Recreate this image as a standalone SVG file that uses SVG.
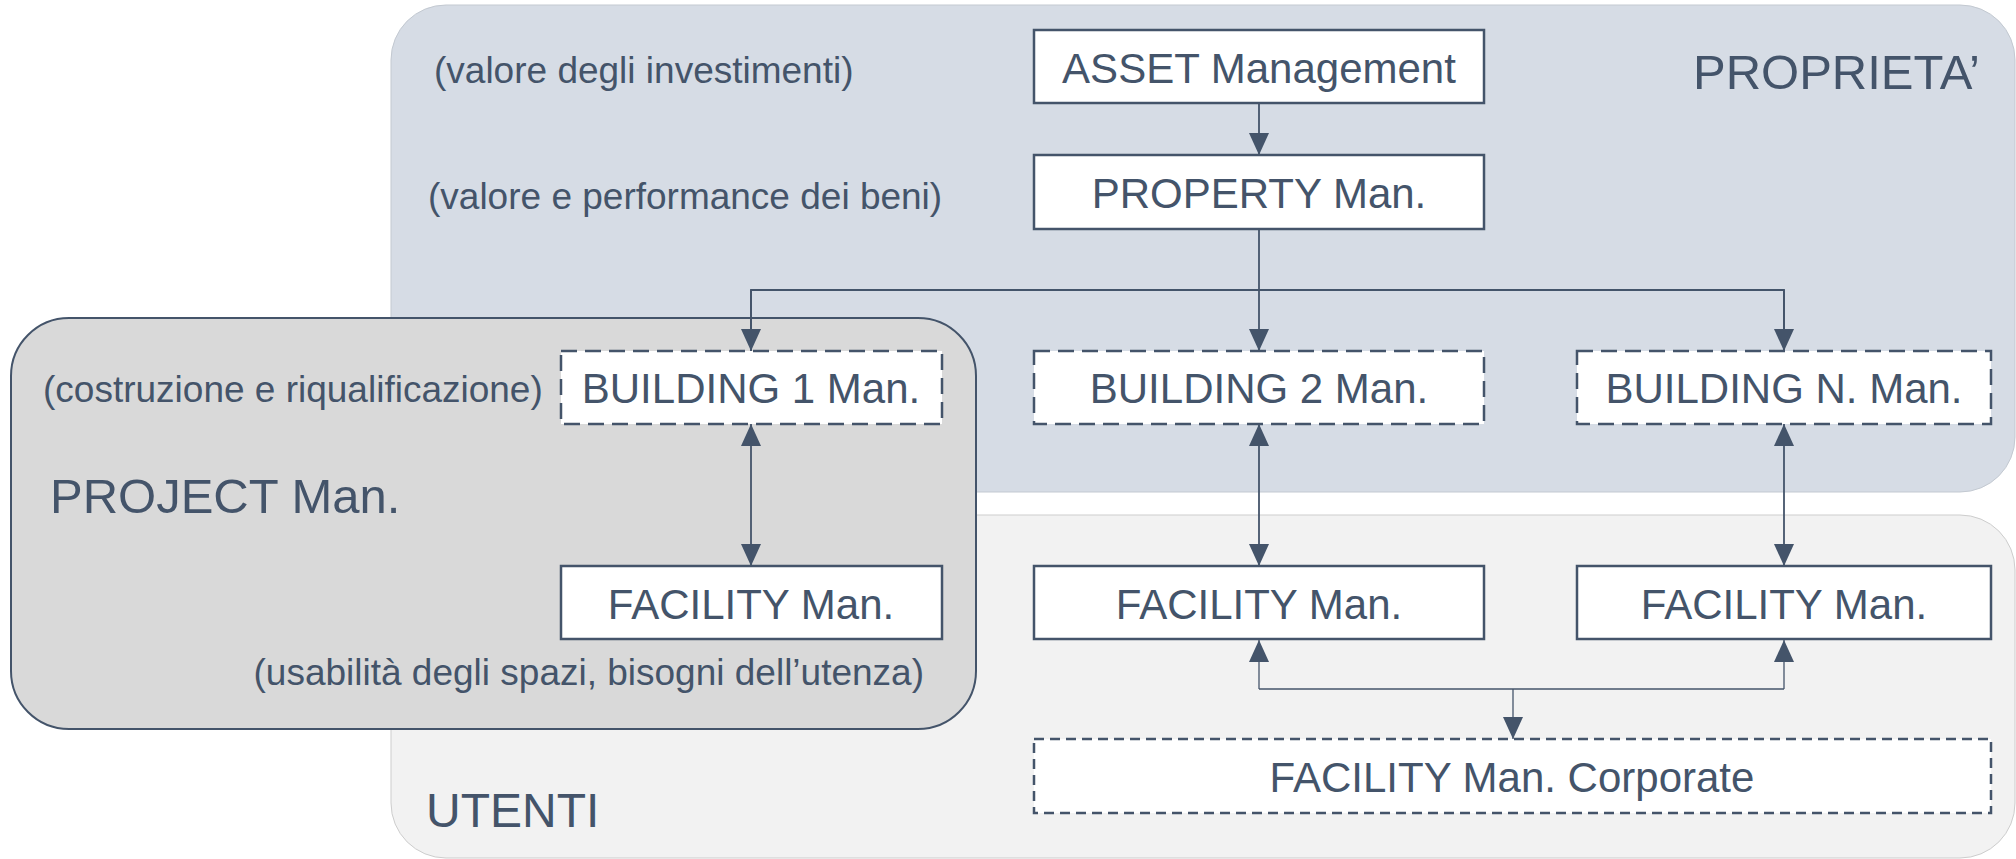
<svg xmlns="http://www.w3.org/2000/svg" width="2016" height="859" viewBox="0 0 2016 859">
<style>
.t{font-family:"Liberation Sans",Arial,sans-serif;fill:#44546a}
.lbl{font-size:42px;text-anchor:middle}
.note{font-size:37px}
.big{font-size:49px}
.box{fill:#ffffff;stroke:#44546a;stroke-width:2.5}
.dash{stroke-dasharray:16 8}
.dash2{stroke-dasharray:10 6}
.c{fill:none;stroke:#44546a;stroke-width:1.8}
.c2{fill:none;stroke:#44546a;stroke-width:1.3}
</style>
<defs>
<marker id="ah" viewBox="0 0 22 20" refX="22" refY="10" markerWidth="22" markerHeight="20" markerUnits="userSpaceOnUse" orient="auto-start-reverse">
<path d="M0,0 L22,10 L0,20 Z" fill="#44546a"/>
</marker>
</defs>
<rect width="2016" height="859" fill="#ffffff"/>
<g id="panel-proprieta">
<rect x="391" y="5" width="1624" height="487" rx="55" ry="55" fill="#d6dce5" stroke="#c3c9d1" stroke-width="1"/>
<text class="t big" x="1693" y="89">PROPRIETA’</text>
</g>
<g id="panel-utenti">
<rect x="391" y="515" width="1624" height="343" rx="55" ry="55" fill="#f2f2f2" stroke="#cdcdcd" stroke-width="1"/>
<text class="t" x="426" y="827" font-size="48">UTENTI</text>
</g>
<g id="panel-project">
<rect x="11" y="318" width="965" height="411" rx="58" ry="58" fill="#d9d9d9" stroke="#44546a" stroke-width="2"/>
<text class="t big" x="50" y="513">PROJECT Man.</text>
</g>
<g id="notes">
<text class="t note" x="434" y="83">(valore degli investimenti)</text>
<text class="t note" x="428" y="209">(valore e performance dei beni)</text>
<text class="t note" x="43" y="402">(costruzione e riqualificazione)</text>
<text class="t note" x="924" y="685" text-anchor="end">(usabilità degli spazi, bisogni dell’utenza)</text>
</g>
<g id="connectors">
<line class="c" x1="1259" y1="103" x2="1259" y2="155" marker-end="url(#ah)"/>
<line class="c" x1="1259" y1="229" x2="1259" y2="351" marker-end="url(#ah)"/>
<polyline class="c" points="751,351 751,290 1784,290 1784,351"/>
<line class="c" x1="751" y1="290" x2="751" y2="351" marker-end="url(#ah)"/>
<line class="c" x1="1784" y1="290" x2="1784" y2="351" marker-end="url(#ah)"/>
<line class="c" x1="751" y1="424" x2="751" y2="566" marker-start="url(#ah)" marker-end="url(#ah)"/>
<line class="c" x1="1259" y1="424" x2="1259" y2="566" marker-start="url(#ah)" marker-end="url(#ah)"/>
<line class="c" x1="1784" y1="424" x2="1784" y2="566" marker-start="url(#ah)" marker-end="url(#ah)"/>
<polyline class="c2" points="1259,689 1784,689"/>
<line class="c2" x1="1259" y1="689" x2="1259" y2="640" marker-end="url(#ah)"/>
<line class="c2" x1="1784" y1="689" x2="1784" y2="640" marker-end="url(#ah)"/>
<line class="c2" x1="1513" y1="689" x2="1513" y2="739" marker-end="url(#ah)"/>
</g>
<g id="asset">
<rect class="box" x="1034" y="30" width="450" height="73"/>
<text class="t lbl" x="1259" y="83">ASSET Management</text>
</g>
<g id="property">
<rect class="box" x="1034" y="155" width="450" height="74"/>
<text class="t lbl" x="1259" y="208">PROPERTY Man.</text>
</g>
<g id="building1">
<rect class="box dash" x="561" y="351" width="381" height="73"/>
<text class="t lbl" x="751" y="403">BUILDING 1 Man.</text>
</g>
<g id="building2">
<rect class="box dash" x="1034" y="351" width="450" height="73"/>
<text class="t lbl" x="1259" y="403">BUILDING 2 Man.</text>
</g>
<g id="buildingN">
<rect class="box dash" x="1577" y="351" width="414" height="73"/>
<text class="t lbl" x="1784" y="403">BUILDING N. Man.</text>
</g>
<g id="facility1">
<rect class="box" x="561" y="566" width="381" height="73"/>
<text class="t lbl" x="751" y="619">FACILITY Man.</text>
</g>
<g id="facility2">
<rect class="box" x="1034" y="566" width="450" height="73"/>
<text class="t lbl" x="1259" y="619">FACILITY Man.</text>
</g>
<g id="facilityN">
<rect class="box" x="1577" y="566" width="414" height="73"/>
<text class="t lbl" x="1784" y="619">FACILITY Man.</text>
</g>
<g id="facility-corporate">
<rect class="box dash2" x="1034" y="739" width="957" height="74"/>
<text class="t lbl" x="1512" y="792">FACILITY Man. Corporate</text>
</g>
</svg>
